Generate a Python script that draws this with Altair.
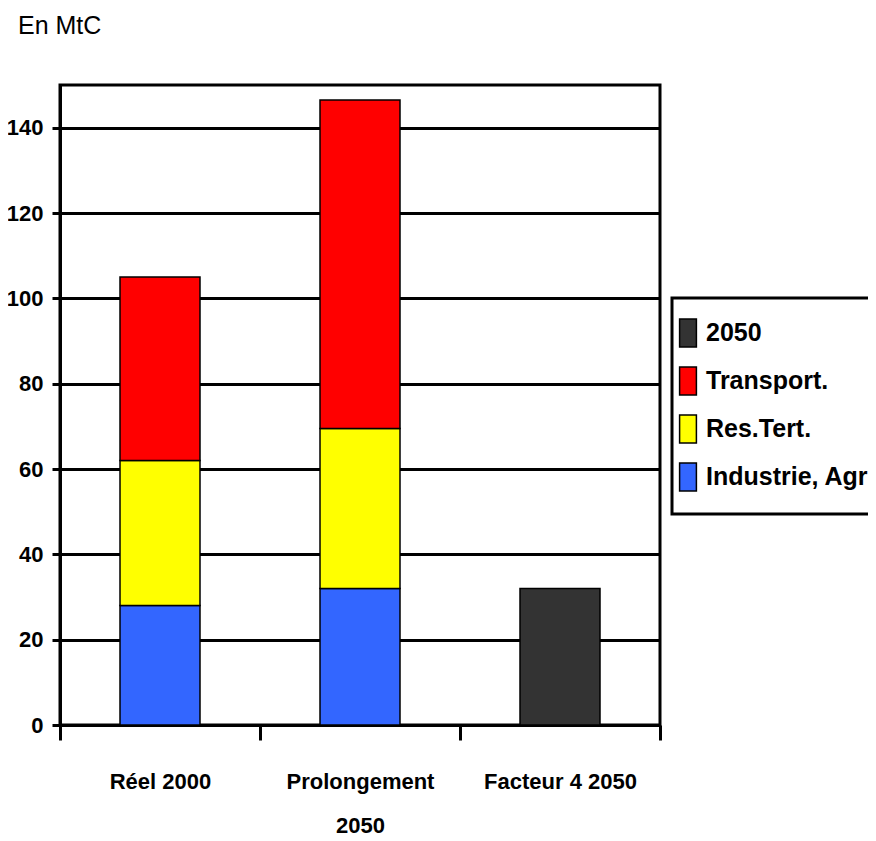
import altair as alt
import pandas as pd

categories = ["Réel 2000", "Prolongement 2050", "Facteur 4 2050"]
series = ["Industrie, Agri", "Res.Tert.", "Transport.", "2050"]
industrie = [28, 32, 0]
res_tert = [34, 37.5, 0]
transport = [43, 77, 0]
facteur = [0, 0, 32]
legend_order = ["2050", "Transport.", "Res.Tert.", "Industrie, Agri"]
colors = ["#333333", "#FF0000", "#FFFF00", "#3366FF"]
y_ticks = [0, 20, 40, 60, 80, 100, 120, 140]

rows = []
for i, c in enumerate(categories):
    for k, (s, vals) in enumerate(zip(series, [industrie, res_tert, transport, facteur])):
        if vals[i] > 0:
            rows.append({"cat": c, "series": s, "value": vals[i], "ord": k})
df = pd.DataFrame(rows)

FONT = "Liberation Sans"

chart = alt.Chart(df, title=alt.TitleParams(
    "En MtC", anchor="start", frame="group", dx=-42, offset=46,
    font=FONT, fontSize=25, fontWeight="normal", color="black")
).mark_bar(width=alt.RelativeBandSize(0.4), stroke="black", strokeWidth=1.5).encode(
    x=alt.X("cat:N", sort=categories, title=None,
            scale=alt.Scale(paddingInner=0, paddingOuter=0),
            axis=alt.Axis(labelAngle=0, tickBand="extent", tickSize=15, tickWidth=3,
                          tickColor="black", domainColor="black", domainWidth=3,
                          labelFont=FONT, labelFontSize=22, labelFontWeight="bold",
                          labelColor="black", labelPadding=31, labelLineHeight=44,
                          labelExpr="datum.label == 'Prolongement 2050' ? ['Prolongement', '2050'] : datum.label",
                          grid=False, labelBaseline="top")),
    y=alt.Y("value:Q", stack="zero", title=None,
            scale=alt.Scale(domain=[0, 150], nice=False),
            axis=alt.Axis(values=y_ticks, tickSize=8, tickWidth=3, tickColor="black",
                          domainColor="black", domainWidth=3, grid=True,
                          gridColor="black", gridWidth=3, gridOpacity=1,
                          labelFont=FONT, labelFontSize=22, labelFontWeight="bold",
                          labelColor="black", labelPadding=9)),
    color=alt.Color("series:N", scale=alt.Scale(domain=legend_order, range=colors),
                    legend=alt.Legend(orient="none", legendX=612, legendY=213, title=None,
                                      symbolType="M-0.6,-1H0.6V1H-0.6Z", symbolSize=784,
                                      symbolStrokeColor="black", symbolStrokeWidth=1.5,
                                      symbolOpacity=1, symbolOffset=-19,
                                      labelFont=FONT, labelFontSize=25, labelFontWeight="bold",
                                      labelColor="black", labelOffset=3, rowPadding=14,
                                      padding=20, strokeColor="black",
                                      fillColor="white", labelLimit=400)),
    order=alt.Order("ord:Q", sort="ascending"),
).properties(
    width=600, height=640,
    autosize=alt.AutoSizeParams(type="none"),
    padding={"left": 52, "top": 77, "right": 208, "bottom": 108},
).configure(background="white"
).configure_view(stroke="black", strokeWidth=3
).configure_legend(strokeWidth=3)

chart.save("out.html", embed_options={"renderer": "svg", "actions": False})
